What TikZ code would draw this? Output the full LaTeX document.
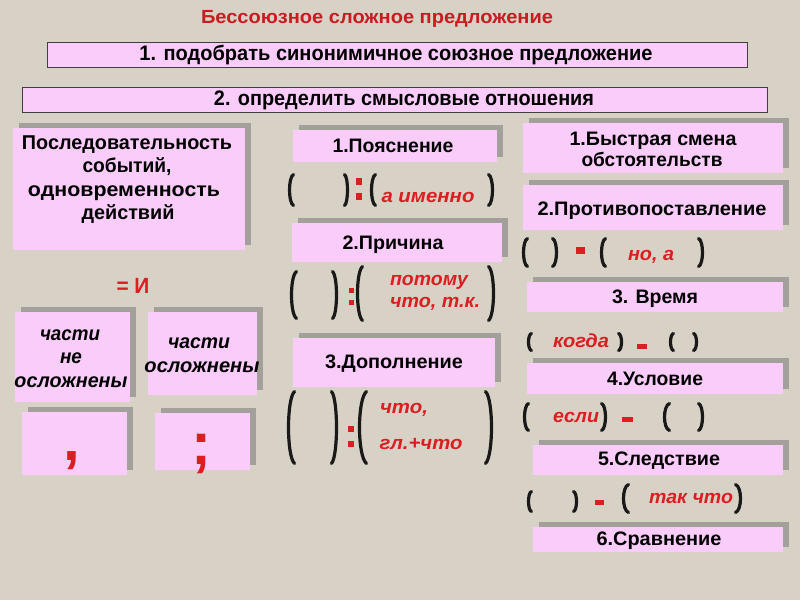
\documentclass[tikz,border=0pt]{standalone}
\usepackage{fontspec}
\setmainfont{Liberation Sans}
\usepackage{graphicx}
\definecolor{bgc}{RGB}{216,210,198}
\definecolor{pinkc}{RGB}{250,204,250}
\definecolor{shc}{RGB}{163,160,156}
\definecolor{redc}{RGB}{218,30,34}
\definecolor{titlec}{RGB}{200,28,32}
\newcommand\fw[2]{\resizebox{#1pt}{\height}{#2}}
\newcommand\pbox[4]{\fill[shc] (#1+6,#2-5) rectangle (#3+6,#4-5); \fill[pinkc] (#1,#2) rectangle (#3,#4);}
% left bracket: xl, xr, top, bottom
\newcommand\lbr[4]{\draw[brk] ({#2-1.5},{#3+1.5}) .. controls ({#2-1.5-4/3*(#2-#1-3)},{#3+0.12*(#4-#3)}) and ({#2-1.5-4/3*(#2-#1-3)},{#4-0.12*(#4-#3)}) .. ({#2-1.5},{#4-1.5});}
\newcommand\rbr[4]{\draw[brk] ({#1+1.5},{#3+1.5}) .. controls ({#1+1.5+4/3*(#2-#1-3)},{#3+0.12*(#4-#3)}) and ({#1+1.5+4/3*(#2-#1-3)},{#4-0.12*(#4-#3)}) .. ({#1+1.5},{#4-1.5});}
\begin{document}
\begin{tikzpicture}[x=1pt,y=-1pt,
  brk/.style={line width=3.2pt,line cap=round,black!90},
  topbox/.style={fill=pinkc,draw=black!75,line width=1pt},
  txt/.style={inner sep=0,anchor=base,yshift=-5.5pt},
  tt/.style={txt,font=\fontsize{19}{19}\selectfont\bfseries,text=titlec},
  top/.style={txt,font=\fontsize{21}{21}\selectfont\bfseries,text=black},
  hd/.style={txt,font=\fontsize{19.5}{19.5}\selectfont\bfseries,text=black},
  bl/.style={txt,font=\fontsize{20}{20}\selectfont\bfseries,text=black},
  it/.style={txt,font=\fontsize{20}{20}\selectfont\bfseries\itshape,text=black},
  rd/.style={txt,font=\fontsize{19}{19}\selectfont\bfseries\itshape,text=redc},
  rdu/.style={txt,font=\fontsize{22}{22}\selectfont\bfseries,text=redc},
  punct/.style={font=\fontsize{60}{60}\selectfont\bfseries,text=redc,inner sep=0,anchor=center}]
\fill[bgc] (0,0) rectangle (800,600);
\useasboundingbox (0,0) rectangle (800,600);
% title and top boxes
\node[tt] (title) at (377,18) {\fw{352}{Бессоюзное сложное предложение}};
\draw[topbox] (47,42) rectangle (747,67);
\node[top] (t1) at (396,55) {\fw{513}{1. подобрать синонимичное союзное предложение}};
\draw[topbox] (22,87) rectangle (767,112);
\node[top] (t2) at (404,100) {\fw{380}{2. определить смысловые отношения}};
% left column
\pbox{13}{128}{245}{250}
\node[bl] (l1a) at (127,144) {\fw{210}{Последовательность}};
\node[bl] (l1b) at (127,167) {\fw{89}{событий,}};
\node[bl] (l1c) at (124,191) {\fw{192}{одновременность}};
\node[bl] (l1d) at (128,214) {\fw{93}{действий}};
\node[rdu] (eqi) at (133,288) {\fw{33}{= И}};
\pbox{15}{312}{130}{402}
\node[it] (l2a) at (70,335) {\fw{60}{части}};
\node[it] (l2b) at (71,358) {\fw{22}{не}};
\node[it] (l2c) at (71,382) {\fw{113}{осложнены}};
\pbox{148}{312}{257}{395}
\node[it] (l3a) at (199,343) {\fw{62}{части}};
\node[it] (l3b) at (202,367) {\fw{115}{осложнены}};
\pbox{22}{412}{127}{475}
\node[punct] (comma) at (72,461) {,};
\pbox{155}{413}{250}{470}
\node[punct] (semi) at (201,454) {;};
% middle column
\pbox{293}{130}{497}{162}
\node[hd] (m1) at (393,147) {\fw{121}{1.Пояснение}};
\lbr{288}{295}{173}{207}
\rbr{343}{349}{173}{207}
\fill[redc] (356,178) rectangle (362,185);
\fill[redc] (356,193) rectangle (362,200);
\lbr{370}{377}{173}{207}
\node[rd] (m1t) at (428,197) {\fw{93}{а именно}};
\rbr{487}{494}{173}{207}
\pbox{292}{223}{502}{262}
\node[hd] (m2) at (393,244) {\fw{101}{2.Причина}};
\lbr{290}{298}{270}{320}
\rbr{331}{338}{270}{320}
\fill[redc] (349,288) rectangle (354,293);
\fill[redc] (349,300) rectangle (354,305);
\lbr{356}{364}{265}{322}
\node[rd] (m2a) at (429,280) {\fw{78}{потому}};
\node[rd] (m2b) at (435,302) {\fw{90}{что, т.к.}};
\rbr{487}{495}{265}{322}
\pbox{293}{338}{495}{387}
\node[hd] (m3) at (394,363) {\fw{138}{3.Дополнение}};
\lbr{287}{296}{390}{465}
\rbr{330}{338}{390}{465}
\fill[redc] (348,426) rectangle (354,432);
\fill[redc] (348,441) rectangle (354,447);
\lbr{358}{368}{390}{465}
\node[rd] (m3a) at (404,408) {\fw{48}{что,}};
\node[rd] (m3b) at (421,444) {\fw{83}{гл.+что}};
\rbr{484}{493}{390}{465}
% right column
\pbox{523}{123}{783}{173}
\node[hd] (r1a) at (653,140) {\fw{167}{1.Быстрая смена}};
\node[hd] (r1b) at (652,161) {\fw{141}{обстоятельств}};
\pbox{523}{185}{783}{230}
\node[hd] (r2) at (652,210) {\fw{229}{2.Противопоставление}};
\lbr{522}{529}{237}{268}
\rbr{551}{558}{237}{268}
\fill[redc] (576,247) rectangle (585,254);
\lbr{600}{607}{237}{268}
\node[rd] (r2t) at (651,255) {\fw{46}{но, а}};
\rbr{697}{704}{237}{268}
\pbox{527}{282}{783}{312}
\node[hd] (r3) at (655,298) {\fw{86}{3. Время}};
\lbr{527}{533}{332}{352}
\node[rd] (r3t) at (581,342) {\fw{56}{когда}};
\rbr{617}{623}{332}{352}
\fill[redc] (637,344) rectangle (647,349);
\lbr{669}{675}{332}{352}
\rbr{692}{698}{332}{352}
\pbox{527}{363}{783}{394}
\node[hd] (r4) at (655,380) {\fw{96}{4.Условие}};
\lbr{523}{530}{402}{432}
\node[rd] (r4t) at (576,417) {\fw{46}{если}};
\rbr{600}{607}{402}{432}
\fill[redc] (622,417) rectangle (633,422);
\lbr{663}{671}{402}{432}
\rbr{697}{704}{402}{432}
\pbox{533}{445}{783}{475}
\node[hd] (r5) at (659,460) {\fw{122}{5.Следствие}};
\lbr{527}{533}{490}{513}
\rbr{572}{578}{490}{513}
\fill[redc] (595,500) rectangle (604,505);
\lbr{622}{630}{483}{514}
\node[rd] (r5t) at (691,498) {\fw{84}{так что}};
\rbr{734}{742}{483}{514}
\pbox{533}{527}{783}{552}
\node[hd] (r6) at (659,540) {\fw{125}{6.Сравнение}};
\end{tikzpicture}
\end{document}
